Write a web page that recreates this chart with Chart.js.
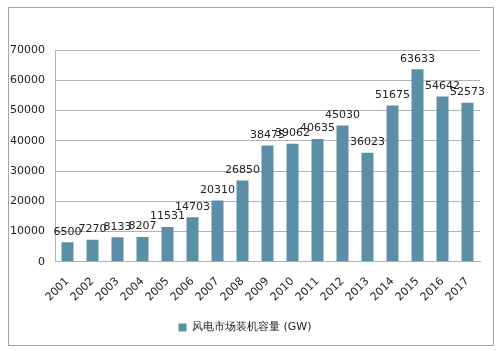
<!DOCTYPE html>
<html>
<head>
<meta charset="utf-8">
<script src="https://cdn.jsdelivr.net/npm/chart.js@4"></script>
<style>
  html, body { margin: 0; padding: 0; background: #fff; }
  #wrap { width: 498px; height: 351px; position: relative; }
</style>
</head>
<body>
<div id="wrap"><canvas id="grafico" width="498" height="351"></canvas></div>
<script>
// Datos del gráfico
const anios = ['2001','2002','2003','2004','2005','2006','2007','2008','2009','2010','2011','2012','2013','2014','2015','2016','2017'];
const capacidad = [6500, 7270, 8133, 8207, 11531, 14703, 20310, 26850, 38475, 39062, 40635, 45030, 36023, 51675, 63633, 54642, 52573];
const ticksY = [0, 10000, 20000, 30000, 40000, 50000, 60000, 70000];
const serieNombre = '风电市场装机容量 (GW)';

const fuente = "'DejaVu Sans', Verdana, sans-serif";

// Marco exterior y fondo blanco
const marco = {
  id: 'marco',
  beforeDraw(chart) {
    const c = chart.ctx;
    c.save();
    c.fillStyle = '#fff';
    c.fillRect(0, 0, chart.width, chart.height);
    c.strokeStyle = '#a6a6a6';
    c.lineWidth = 1;
    c.strokeRect(8.5, 7.5, 485, 338);
    c.restore();
  }
};

// Etiquetas de valores encima de las barras
const etiquetas = {
  id: 'etiquetas',
  afterDatasetsDraw(chart) {
    const c = chart.ctx;
    const meta = chart.getDatasetMeta(0);
    c.save();
    c.font = '11px ' + fuente;
    c.fillStyle = '#222';
    c.textAlign = 'center';
    c.textBaseline = 'bottom';
    meta.data.forEach((bar, i) => {
      c.fillText(String(capacidad[i]), bar.x, bar.y - 5);
    });
    c.restore();
  }
};

new Chart(document.getElementById('grafico').getContext('2d'), {
  type: 'bar',
  data: {
    labels: anios,
    datasets: [{
      label: serieNombre,
      data: capacidad,
      backgroundColor: '#5b8fa8',
      borderWidth: 0,
      barPercentage: 0.48,
      categoryPercentage: 1
    }]
  },
  options: {
    responsive: false,
    animation: false,
    devicePixelRatio: 1,
    layout: { padding: { left: 10, right: 18, top: 50, bottom: 8 } },
    plugins: {
      legend: {
        position: 'bottom',
        labels: {
          font: { family: fuente, size: 11 },
          color: '#222',
          boxWidth: 8,
          boxHeight: 8,
          padding: 13
        }
      },
      tooltip: { enabled: false }
    },
    scales: {
      y: {
        min: 0,
        max: 70000,
        afterBuildTicks(axis) { axis.ticks = ticksY.map(v => ({ value: v })); },
        afterFit(axis) { axis.width = 45; },
        grid: { color: '#b3b3b3', lineWidth: 1, drawTicks: false },
        border: { color: '#b3b3b3' },
        ticks: {
          font: { family: fuente, size: 11 },
          color: '#222',
          padding: 10,
          callback: v => String(v)
        }
      },
      x: {
        grid: { display: false },
        border: { color: '#b3b3b3' },
        ticks: {
          font: { family: fuente, size: 11 },
          color: '#222',
          minRotation: 45,
          maxRotation: 45,
          padding: 5
        }
      }
    }
  },
  plugins: [marco, etiquetas]
});
</script>
</body>
</html>
